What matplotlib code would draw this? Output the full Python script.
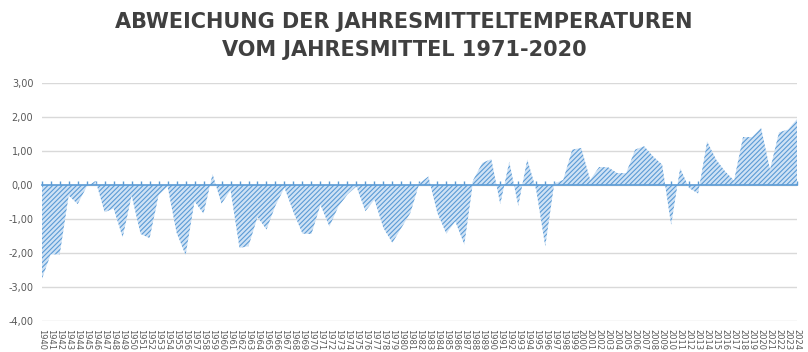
import numpy as np
import matplotlib.pyplot as plt

years = list(range(1940, 2025))
abweichung = [
    -2.78, -2.04, -2.04, -0.31, -0.56, -0.05, 0.12, -0.80, -0.69, -1.54,
    -0.31, -1.44, -1.56, -0.30, -0.04, -1.40, -2.06, -0.48, -0.84, 0.32,
    -0.55, -0.15, -1.85, -1.80, -0.94, -1.31, -0.60, -0.08, -0.80, -1.43,
    -1.44, -0.58, -1.22, -0.63, -0.28, -0.04, -0.77, -0.43, -1.26, -1.70,
    -1.26, -0.82, 0.05, 0.25, -0.82, -1.43, -1.07, -1.75, 0.15, 0.65,
    0.76, -0.56, 0.68, -0.61, 0.75, -0.15, -1.80, 0.04, 0.15, 1.04,
    1.09, 0.15, 0.53, 0.52, 0.35, 0.35, 1.04, 1.14, 0.84, 0.60,
    -1.17, 0.49, -0.09, -0.25, 1.28, 0.75, 0.40, 0.13, 1.41, 1.41,
    1.68, 0.45, 1.55, 1.63, 1.94,
]
titel = 'ABWEICHUNG DER JAHRESMITTELTEMPERATUREN\nVOM JAHRESMITTEL 1971-2020'
y_ticks = [3, 2, 1, 0, -1, -2, -3, -4]

plt.rcParams['hatch.linewidth'] = 0.8

fig = plt.figure(figsize=(8.08, 3.52), dpi=100)
ax = fig.add_axes([41.7 / 808, 1 - 321 / 352, (797 - 41.7) / 808, (321 - 83) / 352])

x = np.arange(len(years))
vals = np.array(abweichung)
ax.fill_between(x, vals, 0, facecolor='#cfe2f5', edgecolor='#5b9bd5',
                hatch='///////', linewidth=0, zorder=2)

ax.set_xlim(0, len(years) - 1)
ax.set_ylim(-4, 3)

# Nulllinie = obere Achse bei 0 (vor den Labels setzen, sonst Reset)
for s in ax.spines.values():
    s.set_visible(False)
ax.spines['top'].set_visible(True)
ax.spines['top'].set_position(('data', 0))
ax.spines['top'].set_color('#5b9bd5')
ax.spines['top'].set_linewidth(1.2)
ax.spines['top'].set_zorder(3)

ax.set_yticks(y_ticks)
ax.set_yticklabels([f'{v:.2f}'.replace('.', ',') for v in y_ticks],
                   fontsize=7, color='#595959')
ax.grid(axis='y', color='#d9d9d9', linewidth=1, zorder=0)
ax.set_axisbelow(True)

ax.set_xticks(x)
ax.tick_params(axis='x', bottom=False, top=True, labelbottom=True,
               labeltop=False, direction='out', length=3, width=1,
               color='#5b9bd5', pad=3)
ax.set_xticklabels([str(y) for y in years], rotation=-90, fontsize=6,
                   color='#595959', va='top', ha='center')
ax.tick_params(axis='y', length=0, pad=6)

fig.text(0.5, 0.965, titel, ha='center', va='top', fontsize=15,
         fontweight='bold', color='#404040', linespacing=1.45)

fig.savefig('out.png', dpi=100)
